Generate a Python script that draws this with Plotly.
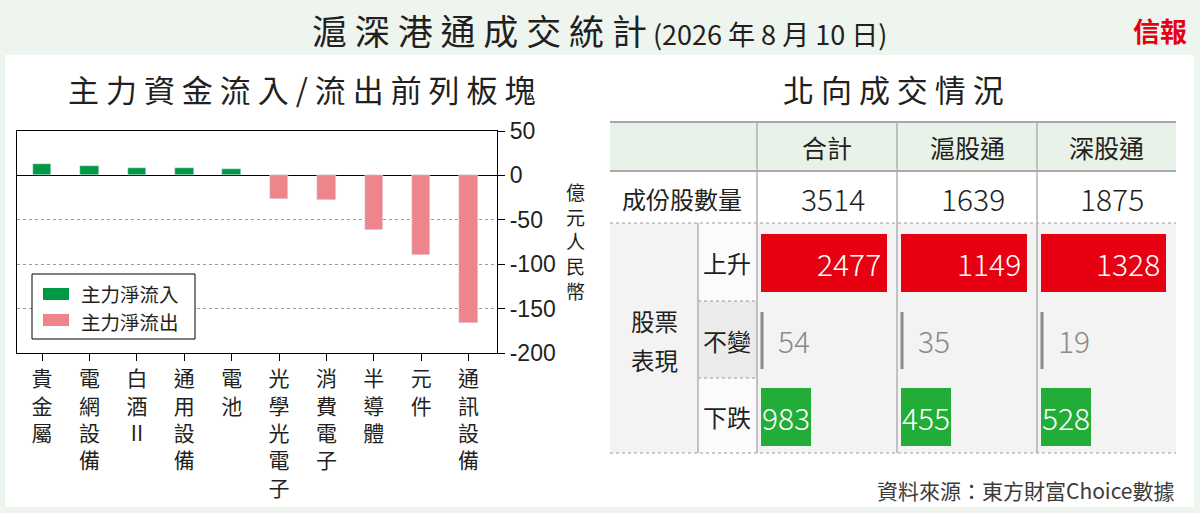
import plotly.graph_objects as go

W, H = 1200, 513

# left chart data (億元人民幣)
categories = ['貴金屬', '電網設備', '白酒II', '通用設備', '電池',
              '光學光電子', '消費電子', '半導體', '元件', '通訊設備']
net_flow = [13, 11, 8.3, 8.6, 7.1, -27, -28, -62, -90, -166]
y_ticks = [50, 0, -50, -100, -150, -200]

# right table data
columns = ['合計', '滬股通', '深股通']
constituents = [3514, 1639, 1875]
rising = [2477, 1149, 1328]
unchanged = [54, 35, 19]
falling = [983, 455, 528]

CJK = 'Noto Sans CJK TC'
NUM = 'Noto Sans CJK TC Light, Noto Sans CJK TC'
DARK = '#231f20'
GREEN = '#009944'
PINK = '#ef858c'
RED = '#e60012'
BOXGREEN = '#22ac38'
BG = '#eef5ee'


def px(x):
    return x / W


def py(y):
    return 1 - y / H


shapes = []
annotations = []


def rect(x0, y0, x1, y1, fill, line=None, lw=0, layer='above'):
    shapes.append(dict(type='rect', xref='paper', yref='paper',
                       x0=px(x0), x1=px(x1), y0=py(y0), y1=py(y1),
                       fillcolor=fill, layer=layer,
                       line=dict(color=line or fill, width=lw)))


def hline(x0, x1, y, color, width=1, dash='solid'):
    shapes.append(dict(type='line', xref='paper', yref='paper',
                       x0=px(x0), x1=px(x1), y0=py(y), y1=py(y),
                       line=dict(color=color, width=width, dash=dash)))


def vline(x, y0, y1, color, width=1):
    shapes.append(dict(type='line', xref='paper', yref='paper',
                       x0=px(x), x1=px(x), y0=py(y0), y1=py(y1),
                       line=dict(color=color, width=width)))


def txt(x, y, s, size, color=DARK, xanchor='center', family=CJK, yanchor='middle'):
    annotations.append(dict(x=px(x), y=py(y), xref='paper', yref='paper',
                            text=s, showarrow=False, xanchor=xanchor,
                            yanchor=yanchor,
                            font=dict(size=size, color=color, family=family)))


# white panel
rect(5, 55, 1194, 507, 'white', layer='below')

# titles
txt(310, 29, '滬 深 港 通 成 交 統 計<span style="font-size:27px"> (2026 年 8 月 10 日)</span>',
    35, xanchor='left')
txt(1160, 30, '<b>信報</b>', 27, color=RED)
txt(301, 88, ' '.join('主力資金流入/流出前列板塊'), 31)
txt(893, 88, ' '.join('北向成交情況'), 31)

# bar chart
inflow = [v if v > 0 else None for v in net_flow]
outflow = [v if v < 0 else None for v in net_flow]

fig = go.Figure()
fig.add_trace(go.Bar(x=categories, y=inflow, marker_color=GREEN,
                     width=0.39, showlegend=False))
fig.add_trace(go.Bar(x=categories, y=outflow, marker_color=PINK,
                     width=0.39, showlegend=False))

# legend drawn by hand
rect(32, 274, 195, 339, 'white', line='black', lw=1)
rect(43, 288, 69, 300, GREEN)
rect(43, 314, 69, 326, PINK)
txt(79, 293, '主力淨流入', 19.5, xanchor='left')
txt(79, 321, '主力淨流出', 19.5, xanchor='left')

# y unit
txt(575, 241, '<br>'.join('億元人民幣'), 19)

# table
TL, TR = 610, 1176
col_edges = [757, 897, 1037, TR]
rect(TL, 122, TR, 171, '#e9f2e9')
rect(TL, 223, TR, 453, '#f2f3f2')
rect(698, 223, 757, 301, '#fbfbfb')
rect(698, 301, 757, 378, '#ebebeb')
rect(698, 378, 757, 453, '#fbfbfb')
hline(TL, TR, 122, '#a8a8a8', 2)
hline(TL, TR, 171, '#a8a8a8', 2)
hline(TL, TR, 223, '#9a9a9a', 1, 'dot')
hline(TL, TR, 453, '#9a9a9a', 1, 'dot')
hline(698, 757, 301, '#9a9a9a', 1, 'dot')
hline(698, 757, 378, '#9a9a9a', 1, 'dot')
for x in col_edges[:3]:
    vline(x, 122, 453, '#b0b0b0', 1.5)
vline(698, 223, 453, '#b0b0b0', 1.5)

txt(682, 198, '成份股數量', 24)
txt(654, 340, '股票', 23.5, yanchor='bottom')
txt(654, 341, '表現', 23.5, yanchor='top')
txt(727, 262, '上升', 24)
txt(727, 340, '不變', 24)
txt(727, 416, '下跌', 24)

for i, name in enumerate(columns):
    left, right = col_edges[i], col_edges[i + 1]
    txt((left + right) / 2, 147, name, 25)
    txt(right - 30, 198, str(constituents[i]), 30, xanchor='right', family=NUM)
    rect(left + 4, 234, right - 10, 292, RED)
    txt(right - 14, 263, str(rising[i]), 30, color='white', xanchor='right', family=NUM)
    vline(left + 5, 312, 369, '#8a8a8a', 3)
    txt(left + 19, 340, str(unchanged[i]), 30, color='#8a8a8a', xanchor='left', family=NUM)
    rect(left + 4, 388, left + 54, 446, BOXGREEN)
    txt(left + 29, 417, str(falling[i]), 30, color='white', family=NUM)

txt(1177, 490, '資料來源：東方財富Choice數據', 21, color='#3b3b3b', xanchor='right')

fig.update_layout(
    width=W, height=H,
    margin=dict(l=0, r=0, t=0, b=0, autoexpand=False),
    paper_bgcolor=BG, plot_bgcolor='white',
    barmode='relative', bargap=0,
    shapes=shapes, annotations=annotations,
    xaxis=dict(domain=[px(17), px(497)], range=[-0.53, 9.6],
               automargin=False,
               tickvals=categories,
               ticktext=['<br>'.join(c) if c != '白酒II' else '白<br>酒<br>II' for c in categories],
               tickfont=dict(family=CJK, size=21, color=DARK),
               showline=True, mirror=True, linecolor='black', linewidth=1.2,
               ticks='outside', ticklen=7, tickcolor='black', showgrid=False),
    yaxis=dict(domain=[py(353), py(131)], range=[-200, 50], side='right',
               automargin=False,
               tickvals=y_ticks,
               ticktext=[str(v) for v in y_ticks],
               tickfont=dict(family='Liberation Sans', size=23, color=DARK),
               showline=True, mirror=True, linecolor='black', linewidth=1.2,
               ticks='outside', ticklen=7, tickcolor='black',
               showgrid=True, gridcolor='#9a9a9a', griddash='dot', gridwidth=1,
               zeroline=True, zerolinecolor='black', zerolinewidth=1.2),
)

fig.write_html('out.html', config={'displayModeBar': False},
               post_script="document.body.style.margin='0';document.body.style.overflow='hidden';")
